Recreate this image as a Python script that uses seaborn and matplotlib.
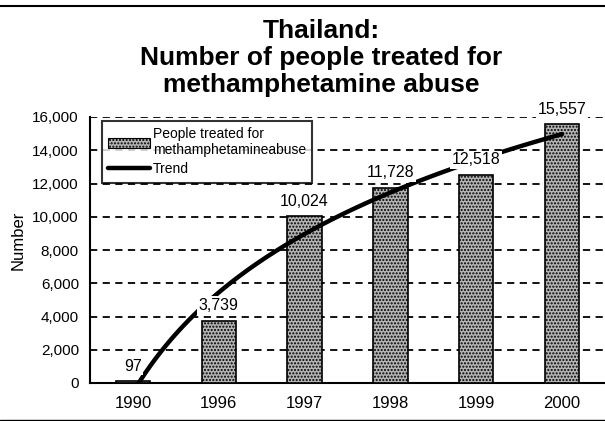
import numpy as np
import pandas as pd
import matplotlib
matplotlib.use("Agg")
import matplotlib.pyplot as plt
import seaborn as sns
from matplotlib.lines import Line2D
from matplotlib.patches import Patch
from matplotlib.ticker import StrMethodFormatter, FixedLocator

years = ["1990", "1996", "1997", "1998", "1999", "2000"]
treated = [97, 3739, 10024, 11728, 12518, 15557]
value_labels = ["97", "3,739", "10,024", "11,728", "12,518", "15,557"]
bar_label = "People treated for\nmethamphetamineabuse"
trend_label = "Trend"
title = "Thailand:\nNumber of people treated for\nmethamphetamine abuse"

sns.set_theme(style="white")
plt.rcParams['font.family'] = ['Liberation Sans', 'DejaVu Sans']
plt.rcParams.update({'text.color': 'black', 'axes.labelcolor': 'black',
                     'xtick.color': 'black', 'ytick.color': 'black'})

bar_color = '#b4b4b4'
pos = np.arange(1, len(years) + 1)
df = pd.DataFrame({'pos': pos, 'treated': treated})

fig = plt.figure(figsize=(6.05, 4.21), dpi=100)
ax = fig.add_axes([90 / 605, 38 / 421, 515 / 605, 266 / 421])

# stippled grey bars
sns.barplot(data=df, x='pos', y='treated', native_scale=True, width=0.4,
            color=bar_color, edgecolor='black', linewidth=1.2, hatch='.....',
            ax=ax, zorder=3)
# log trend line (like Excel's logarithmic trendline)
sns.regplot(data=df, x='pos', y='treated', logx=True, scatter=False, ci=None,
            line_kws={'color': 'black', 'linewidth': 3.2, 'solid_capstyle': 'round', 'zorder': 4},
            ax=ax)

for p, v, lab in zip(pos, treated, value_labels):
    ax.annotate(lab, (p, v), textcoords='offset points', xytext=(0, 11), ha='center', va='center',
                fontsize=11.5, color='black', zorder=6,
                bbox=dict(boxstyle='square,pad=0.1', facecolor='white', edgecolor='none'))

ax.set_xlim(0.5, 6.5)
ax.set_ylim(0, 16000)
ax.set_xlabel('')
ax.set_ylabel('')
ax.set_xticks(pos)
ax.set_xticklabels(years, fontsize=12)
ax.xaxis.set_minor_locator(FixedLocator(pos[:-1] + 0.5))
ax.tick_params(axis='x', which='major', length=0, pad=9)
ax.tick_params(axis='x', which='minor', length=5, width=1.2, direction='out', color='black')
ax.set_yticks(np.arange(0, 16001, 2000))
ax.yaxis.set_major_formatter(StrMethodFormatter('{x:,.0f}'))
ax.tick_params(axis='y', length=8, width=1.2, direction='inout', color='black', labelsize=11, pad=4)
ax.grid(axis='y', color='black', linestyle=(0, (4, 3)), linewidth=1.3, zorder=0)
ax.grid(axis='x', visible=False)
ax.set_axisbelow(True)
for s in ['top', 'right']:
    ax.spines[s].set_visible(False)
for s in ['left', 'bottom']:
    ax.spines[s].set_color('black')
    ax.spines[s].set_linewidth(1.5)

handles = [Patch(facecolor=bar_color, edgecolor='black', hatch='.....', linewidth=0.8),
           Line2D([0], [0], color='black', linewidth=3.2)]
leg = ax.legend(handles, [bar_label, trend_label], loc='upper left',
                bbox_to_anchor=(102 / 605, 1 - 121 / 421), bbox_transform=fig.transFigure,
                prop={'size': 10}, frameon=True, fancybox=False,
                handlelength=3.0, handletextpad=0.2, borderpad=0.45,
                labelspacing=0.35, borderaxespad=0)
leg.get_frame().set_edgecolor('black')
leg.get_frame().set_linewidth(1.5)
leg.set_zorder(10)

fig.text(18 / 605, 1 - 240 / 421, 'Number', rotation=90, ha='center', va='center', fontsize=12)
fig.text(321 / 605, 1 - 58 / 421, title, ha='center', va='center', fontsize=19,
         fontweight='bold', linespacing=1.15)

# page rules at the top and bottom of the scan
fig.add_artist(Line2D([0, 1], [1 - 6 / 421, 1 - 6 / 421], color='black', linewidth=1.5, transform=fig.transFigure))
fig.add_artist(Line2D([0, 1], [1 - 420 / 421, 1 - 420 / 421], color='black', linewidth=1.0, transform=fig.transFigure))

fig.savefig('out.png', dpi=100, facecolor='white')
plt.close(fig)
